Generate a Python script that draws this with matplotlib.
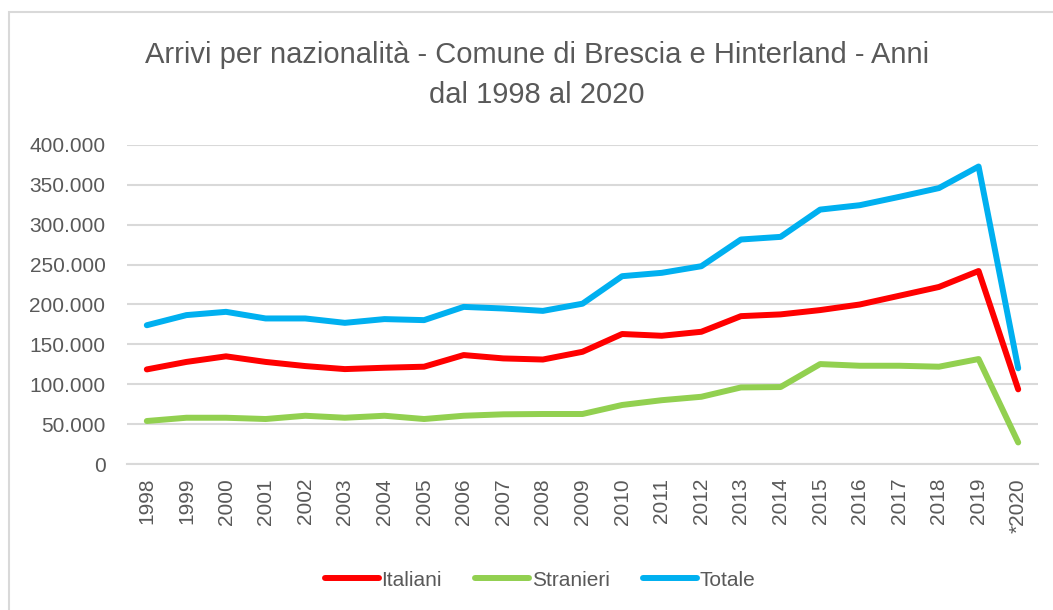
import matplotlib
matplotlib.use("Agg")
import matplotlib.pyplot as plt
from matplotlib.patches import Rectangle
from matplotlib.ticker import FuncFormatter

years = ["1998", "1999", "2000", "2001", "2002", "2003", "2004", "2005", "2006", "2007",
         "2008", "2009", "2010", "2011", "2012", "2013", "2014", "2015", "2016", "2017",
         "2018", "2019", "*2020"]
italiani = [118600, 128000, 135000, 128000, 122800, 119000, 120700, 122000, 136600, 132400,
            131000, 140700, 163000, 160800, 165800, 185400, 187600, 193000, 200000, 211000,
            222000, 242000, 93600]
stranieri = [53900, 58000, 58000, 56400, 60500, 58000, 60500, 56400, 60500, 62300,
             62700, 62700, 74000, 80000, 84300, 96000, 96500, 125300, 123200, 123200,
             122000, 131600, 27000]
totale = [174000, 186700, 190800, 182500, 182500, 177000, 181700, 180400, 197000, 195000,
          192000, 201000, 235500, 239700, 248000, 281500, 284800, 319000, 324500, 335000,
          346000, 373000, 120000]
yticks = [0, 50000, 100000, 150000, 200000, 250000, 300000, 350000, 400000]

TXT = "#595959"
GRID = "#d9d9d9"
SANS = ["Liberation Sans", "DejaVu Sans"]

W, H = 1053, 610
fig = plt.figure(figsize=(W / 100, H / 100), dpi=100)
fig.patch.set_facecolor("white")

# chart border
fig.patches.append(Rectangle((9 / W, -0.05), 1.1, 1 - 12 / H + 0.05, transform=fig.transFigure,
                             fill=False, edgecolor=GRID, linewidth=1.5))

ax = fig.add_axes([127 / W, 1 - 464 / H, (1038 - 127) / W, (464 - 145) / H])
x = list(range(len(years)))
ax.plot(x, italiani, color="#FF0000", lw=4.3, solid_capstyle="round", solid_joinstyle="round", label="Italiani", zorder=3)
ax.plot(x, stranieri, color="#92D050", lw=4.3, solid_capstyle="round", solid_joinstyle="round", label="Stranieri", zorder=3)
ax.plot(x, totale, color="#00B0F0", lw=4.3, solid_capstyle="round", solid_joinstyle="round", label="Totale", zorder=3)

ax.set_xlim(-0.5, len(years) - 0.5)
ax.set_ylim(0, 400000)
ax.set_yticks(yticks)
ax.yaxis.set_major_formatter(FuncFormatter(lambda v, p: f"{int(v):,}".replace(",", ".")))
ax.grid(axis="y", color=GRID, lw=1.5)
ax.set_axisbelow(True)
for s in ["top", "right", "left"]:
    ax.spines[s].set_visible(False)
ax.spines["bottom"].set_color(GRID)
ax.spines["bottom"].set_linewidth(1.5)
ax.set_xticks(x)
ax.set_xticklabels(years, rotation=90, va="top", ha="center")
ax.tick_params(axis="both", length=0, colors=TXT, labelsize=15)
ax.tick_params(axis="y", pad=15.5)
ax.tick_params(axis="x", pad=10)
for lab in ax.get_xticklabels() + ax.get_yticklabels():
    lab.set_family(SANS)

fig.text(537 / W, 1 - 55 / H, "Arrivi per nazionalità - Comune di Brescia e Hinterland - Anni",
         ha="center", va="center", color=TXT, fontsize=21, family=SANS)
fig.text(537 / W, 1 - 95 / H, "dal 1998 al 2020",
         ha="center", va="center", color=TXT, fontsize=21, family=SANS)

leg = fig.legend(loc="center", bbox_to_anchor=(540 / W, 1 - 580 / H), ncol=3, frameon=False,
                 handlelength=2.6, handletextpad=0.1, columnspacing=1.6,
                 prop={"family": SANS, "size": 15})
for t in leg.get_texts():
    t.set_color(TXT)

fig.savefig("out.png", dpi=100, facecolor="white")
